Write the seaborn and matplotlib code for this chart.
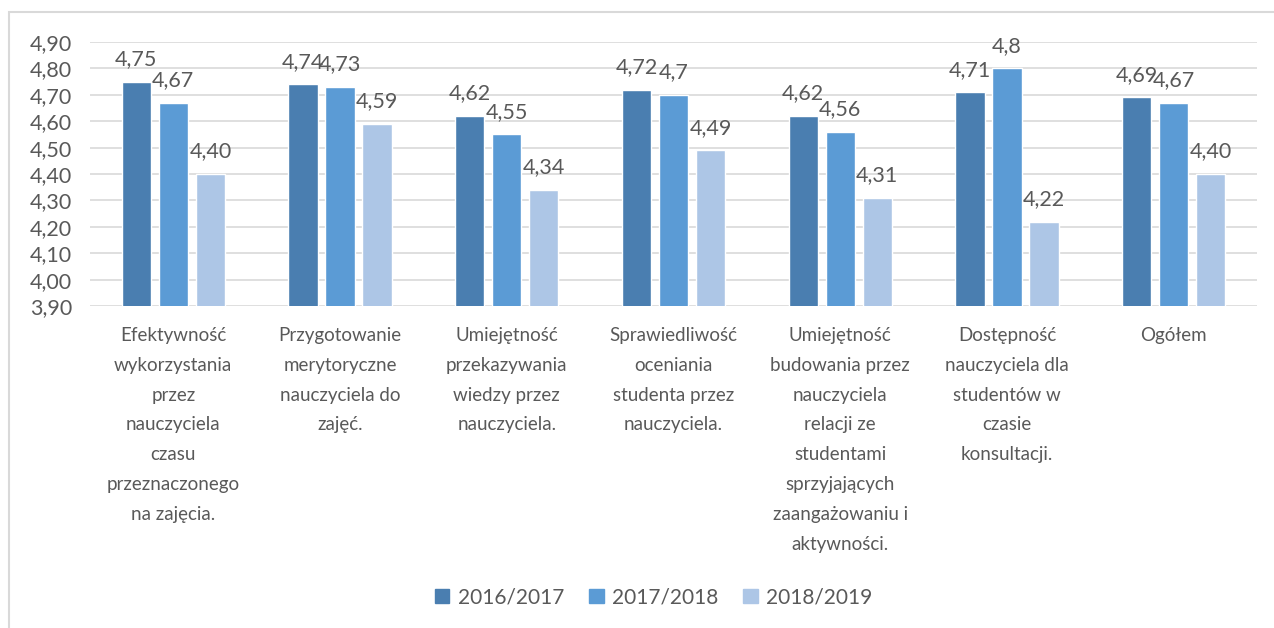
import matplotlib
matplotlib.use("Agg")
import matplotlib.pyplot as plt
import matplotlib.patches as mpatches
from matplotlib.ticker import FuncFormatter, MultipleLocator
import seaborn as sns
import pandas as pd

categories = [
    "Efektywność\nwykorzystania\nprzez\nnauczyciela\nczasu\nprzeznaczonego\nna zajęcia.",
    "Przygotowanie\nmerytoryczne\nnauczyciela do\nzajęć.",
    "Umiejętność\nprzekazywania\nwiedzy przez\nnauczyciela.",
    "Sprawiedliwość\noceniania\nstudenta przez\nnauczyciela.",
    "Umiejętność\nbudowania przez\nnauczyciela\nrelacji ze\nstudentami\nsprzyjających\nzaangażowaniu i\naktywności.",
    "Dostępność\nnauczyciela dla\nstudentów w\nczasie\nkonsultacji.",
    "Ogółem",
]
years = ["2016/2017", "2017/2018", "2018/2019"]
v2016 = [4.75, 4.74, 4.62, 4.72, 4.62, 4.71, 4.69]
v2017 = [4.67, 4.73, 4.55, 4.70, 4.56, 4.80, 4.67]
v2018 = [4.40, 4.59, 4.34, 4.49, 4.31, 4.22, 4.40]
lab2016 = ["4,75", "4,74", "4,62", "4,72", "4,62", "4,71", "4,69"]
lab2017 = ["4,67", "4,73", "4,55", "4,7", "4,56", "4,8", "4,67"]
lab2018 = ["4,40", "4,59", "4,34", "4,49", "4,31", "4,22", "4,40"]

colors = ["#4a7eb0", "#5b9bd5", "#adc6e6"]
text_c = "#595959"
grid_c = "#d9d9d9"

df = pd.DataFrame({
    "cat": categories * 3,
    "year": [y for y in years for _ in categories],
    "val": v2016 + v2017 + v2018,
})

sns.set_style("white")
plt.rcParams["font.family"] = ["Lato", "DejaVu Sans"]

fig = plt.figure(figsize=(12.74, 6.28), dpi=100)
ax = fig.add_axes([0.0706, 0.5127, 0.9161, 0.4204])

sns.barplot(data=df, x="cat", y="val", hue="year", palette=colors,
            width=0.667, gap=0.21, ax=ax, legend=False, saturation=1)

ax.set_ylim(3.90, 4.90)
ax.yaxis.set_major_locator(MultipleLocator(0.1))
ax.yaxis.set_major_formatter(FuncFormatter(lambda v, p: f"{v:.2f}".replace(".", ",")))
ax.grid(axis="y", color=grid_c, linewidth=1.2)
ax.set_axisbelow(True)
for s in ax.spines.values():
    s.set_visible(False)
ax.tick_params(axis="both", length=0, colors=text_c)
ax.tick_params(axis="y", labelsize=15.5, pad=13)
ax.tick_params(axis="x", labelsize=13.5, pad=15)
for t in ax.get_xticklabels():
    t.set_linespacing(1.92)
    t.set_verticalalignment("top")
ax.set_xlabel("")
ax.set_ylabel("")
ax.set_xlim(-0.5, len(categories) - 0.5)

for cont, labs in zip(ax.containers, [lab2016, lab2017, lab2018]):
    ax.bar_label(cont, labels=labs, padding=9, fontsize=15.5, color=text_c)

handles = [mpatches.Patch(color=c, label=y) for c, y in zip(colors, years)]
fig.legend(handles=handles, loc="center", bbox_to_anchor=(0.513, 0.049), ncol=3,
           frameon=False, fontsize=15, labelcolor=text_c, handlelength=0.7,
           handleheight=0.7, handletextpad=0.4, columnspacing=1.2)

fig.add_artist(mpatches.Rectangle((9 / 1274, -0.1), 1.2, 1 - 12 / 628 + 0.1,
                                  transform=fig.transFigure, fill=False,
                                  edgecolor=grid_c, linewidth=1.5))

fig.savefig("out.png", dpi=100)
